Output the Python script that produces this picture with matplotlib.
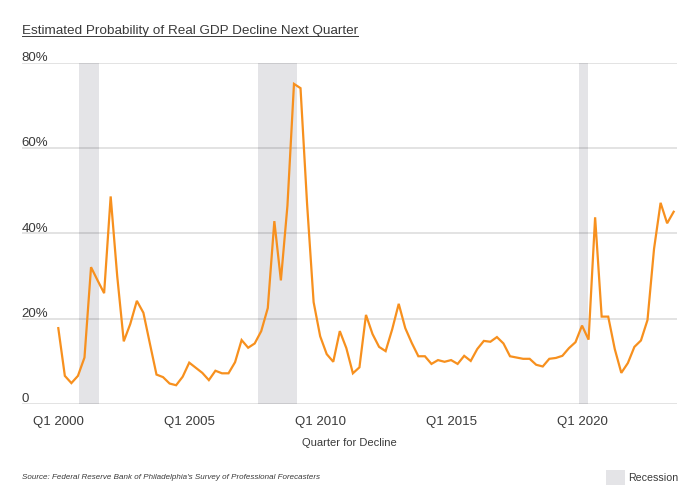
import numpy as np
import matplotlib
matplotlib.use('Agg')
import matplotlib.pyplot as plt
from matplotlib.lines import Line2D
from matplotlib.patches import Rectangle

plt.rcParams['font.family'] = ['Liberation Sans', 'DejaVu Sans']

# === Data: survey probability of a decline next quarter, Q1 2000 .. Q3 2023 ===
start_year = 2000
prob = [
    17.8, 6.6, 4.9, 6.6, 10.9, 32.1, 29.0, 26.0, 48.7, 30.0,
    14.7, 18.8, 24.2, 21.4, 14.1, 6.9, 6.3, 4.8, 4.4, 6.4,
    9.7, 8.5, 7.3, 5.6, 7.8, 7.2, 7.2, 9.8, 15.0, 13.2,
    14.2, 17.1, 22.5, 42.9, 29.0, 46.5, 75.1, 74.1, 47.0, 23.9,
    15.9, 11.7, 9.9, 17.1, 13.1, 7.2, 8.6, 20.9, 16.4, 13.4,
    12.4, 17.5, 23.5, 17.8, 14.3, 11.2, 11.2, 9.4, 10.3, 9.9,
    10.3, 9.4, 11.3, 10.1, 12.9, 14.8, 14.6, 15.7, 14.2, 11.2,
    10.9, 10.6, 10.6, 9.2, 8.8, 10.6, 10.8, 11.3, 13.1, 14.5,
    18.4, 15.1, 43.8, 20.5, 20.5, 12.9, 7.3, 9.6, 13.4, 14.9,
    19.7, 36.4, 47.2, 42.4, 45.1,
]
quarters = ['Q%d %d' % (i % 4 + 1, start_year + i // 4) for i in range(len(prob))]
tick_labels = ['Q1 2000', 'Q1 2005', 'Q1 2010', 'Q1 2015', 'Q1 2020']
y_ticks = [0, 20, 40, 60, 80]
# recession shading, in quarter positions
recessions = [(3.2, 6.2), (30.5, 36.5), (79.6, 80.9)]

line_col = '#F7901E'
band_col = '#E4E4E7'
text_col = '#3A3A3A'

fig = plt.figure(figsize=(7, 4.89), dpi=100)
ax = fig.add_axes([0.031, 0.1718, 0.9357, 0.6973])

x = np.arange(len(prob))

for a, b in recessions:
    ax.axvspan(a, b, color=band_col, lw=0, zorder=0)

# gridlines drawn semi-transparent so they darken over the bands
for v in y_ticks:
    ax.axhline(v, color='black', alpha=0.12, lw=1.3, zorder=1)
    lab = '0' if v == 0 else '%d%%' % v
    ax.annotate(lab, xy=(0, v), xycoords=('axes fraction', 'data'),
                xytext=(0, 2), textcoords='offset points',
                ha='left', va='baseline', fontsize=9.5, color=text_col)

ax.plot(x, prob, color=line_col, lw=1.6, zorder=3, solid_joinstyle='miter')

ax.set_xlim(-5.59, 94.46)
ax.set_ylim(0, 80)
ax.set_yticks([])
ax.set_xticks([quarters.index(t) for t in tick_labels])
ax.set_xticklabels(tick_labels, fontsize=9.5, color=text_col)
ax.tick_params(axis='x', length=0, pad=8)
ax.set_xlabel('Quarter for Decline', fontsize=8, color=text_col, labelpad=7)
for s in ax.spines.values():
    s.set_visible(False)

# === Title with underline ===
title = fig.text(22 / 700, 1 - 34 / 489,
                 'Estimated Probability of Real GDP Decline Next Quarter',
                 fontsize=9.7, color=text_col, ha='left', va='baseline')
fig.canvas.draw()
bb = title.get_window_extent()
uy = 1 - 36.5 / 489
fig.add_artist(Line2D([bb.x0 / 700, bb.x1 / 700], [uy, uy],
                      transform=fig.transFigure, color=text_col, lw=0.7))

# === Footer ===
fig.text(22 / 700, 1 - 478 / 489,
         "Source: Federal Reserve Bank of Philadelphia's Survey of Professional Forecasters",
         fontsize=5.8, style='italic', color=text_col, ha='left', va='center')
fig.add_artist(Rectangle((606 / 700, 1 - 486 / 489), 19 / 700, 15 / 489,
                         transform=fig.transFigure, color=band_col, lw=0))
fig.text(628 / 700, 1 - 478 / 489, 'Recession', fontsize=7.7,
         color=text_col, ha='left', va='center')

fig.savefig('out.png', dpi=100, facecolor='white')
